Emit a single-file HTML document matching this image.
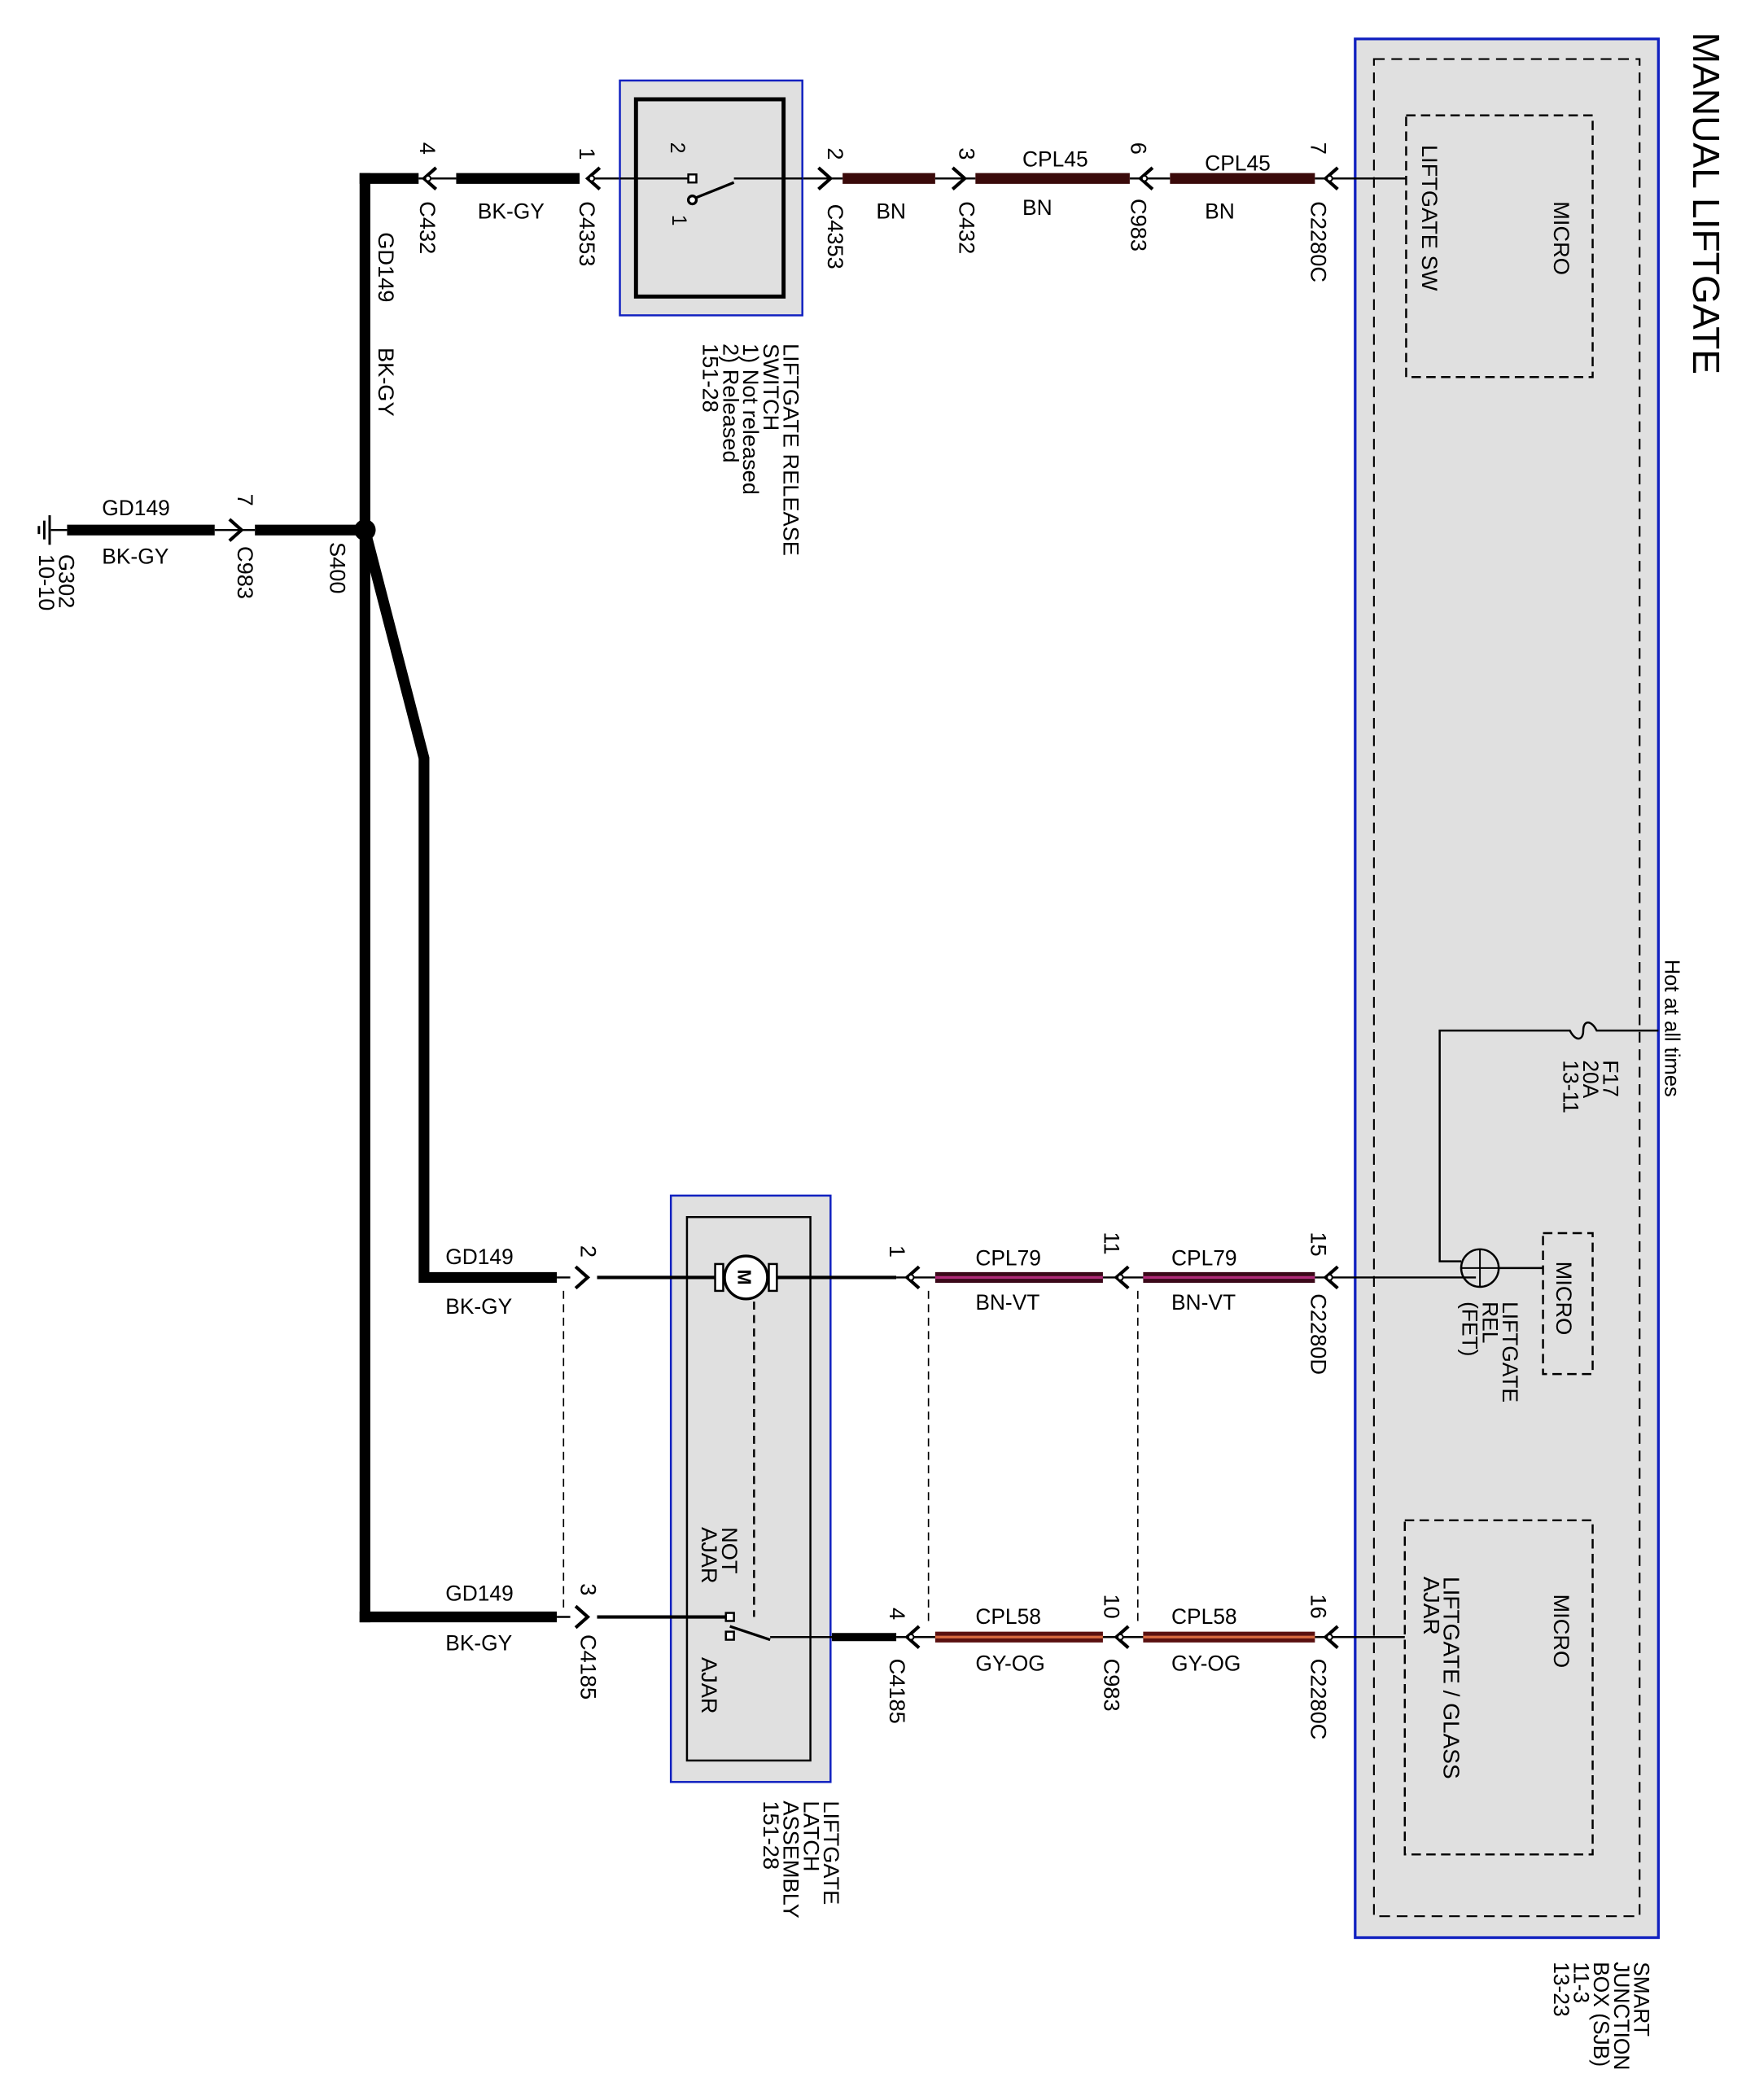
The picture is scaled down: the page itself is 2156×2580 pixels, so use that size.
<!DOCTYPE html>
<html><head><style>html,body{margin:0;padding:0;background:#fff}svg{display:block}</style></head>
<body>
<svg width="2156" height="2580" viewBox="0 0 1308 1565" preserveAspectRatio="none" xmlns="http://www.w3.org/2000/svg" font-family="Liberation Sans, sans-serif" font-size="16.5">
<defs>
<g id="al"><path d="M9,-8 L0,0 L9,8" fill="none" stroke="#000" stroke-width="2.5"/><circle cx="3" cy="0" r="2" fill="#fff" stroke="#000" stroke-width="1.2"/></g>
<g id="ar"><path d="M-9,-8 L0,0 L-9,8" fill="none" stroke="#000" stroke-width="2.5"/></g>
</defs>
<!-- SJB -->
<rect x="1010" y="29" width="226" height="1415" fill="#e0e0e0" stroke="#1020c0" stroke-width="2"/>
<rect x="1024" y="44" width="198" height="1384" fill="none" stroke="#000" stroke-width="1.3" stroke-dasharray="8,5"/>
<rect x="1048" y="86" width="139" height="195" fill="none" stroke="#000" stroke-width="1.5" stroke-dasharray="7,4"/>
<rect x="1150" y="919" width="37" height="105" fill="none" stroke="#000" stroke-width="1.5" stroke-dasharray="7,4"/>
<rect x="1047" y="1133" width="140" height="249" fill="none" stroke="#000" stroke-width="1.5" stroke-dasharray="7,4"/>
<text transform="translate(1262,24) rotate(90)" font-size="28">MANUAL LIFTGATE</text>
<text transform="translate(1158,150) rotate(90)">MICRO</text>
<text transform="translate(1060,108) rotate(90)">LIFTGATE SW</text>
<text transform="translate(1160,940) rotate(90)">MICRO</text>
<text transform="translate(1158,1188) rotate(90)">MICRO</text>
<text transform="translate(1076,1175) rotate(90)" font-size="17">LIFTGATE / GLASS</text>
<text transform="translate(1061,1175) rotate(90)" font-size="17">AJAR</text>
<text transform="translate(1241,715) rotate(90)" font-size="15.5">Hot at all times</text>
<g font-size="16">
<text transform="translate(1218,1462) rotate(90)">SMART</text>
<text transform="translate(1203,1462) rotate(90)">JUNCTION</text>
<text transform="translate(1188,1462) rotate(90)">BOX (SJB)</text>
<text transform="translate(1173,1462) rotate(90)">11-3</text>
<text transform="translate(1158,1462) rotate(90)">13-23</text>
</g>
<!-- fuse & relay -->
<path d="M1236,768 L1190,768 C1186,760 1180,760 1180,768 C1180,776 1174,776 1170,768 L1073,768 L1073,940 L1089,940" fill="none" stroke="#000" stroke-width="1.5"/>
<g font-size="16">
<text transform="translate(1195,790) rotate(90)">F17</text>
<text transform="translate(1180,790) rotate(90)">20A</text>
<text transform="translate(1165,790) rotate(90)">13-11</text>
</g>
<circle cx="1103" cy="945" r="14" fill="none" stroke="#000" stroke-width="1.5"/>
<line x1="1089" y1="945" x2="1117" y2="945" stroke="#000" stroke-width="1.2"/>
<line x1="1103" y1="931" x2="1103" y2="959" stroke="#000" stroke-width="1.2"/>
<line x1="1117" y1="945" x2="1150" y2="945" stroke="#000" stroke-width="1.5"/>
<g font-size="16">
<text transform="translate(1120,970) rotate(90)">LIFTGATE</text>
<text transform="translate(1105,970) rotate(90)">REL</text>
<text transform="translate(1090,970) rotate(90)">(FET)</text>
</g>

<!-- top row -->
<line x1="440" y1="133" x2="628" y2="133" stroke="#000" stroke-width="1.5"/>
<line x1="697" y1="133" x2="727" y2="133" stroke="#000" stroke-width="1.5"/>
<line x1="842" y1="133" x2="872" y2="133" stroke="#000" stroke-width="1.5"/>
<line x1="980" y1="133" x2="1048" y2="133" stroke="#000" stroke-width="1.5"/>
<line x1="628" y1="133" x2="697" y2="133" stroke="#3a0a0a" stroke-width="8"/>
<line x1="727" y1="133" x2="842" y2="133" stroke="#3a0a0a" stroke-width="8"/>
<line x1="872" y1="133" x2="980" y2="133" stroke="#3a0a0a" stroke-width="8"/>
<line x1="340" y1="133" x2="432" y2="133" stroke="#000" stroke-width="8"/>
<line x1="268" y1="133" x2="312" y2="133" stroke="#000" stroke-width="8"/>
<line x1="312" y1="133" x2="340" y2="133" stroke="#000" stroke-width="1.5"/>
<use href="#al" x="316" y="133"/><use href="#al" x="438" y="133"/>
<use href="#ar" x="619" y="133"/><use href="#ar" x="719" y="133"/>
<use href="#al" x="850" y="133"/><use href="#al" x="988" y="133"/>
<g font-size="16">
<text x="356" y="163">BK-GY</text>
<text x="653" y="163">BN</text>
<text x="762" y="124">CPL45</text><text x="762" y="160">BN</text>
<text x="898" y="127">CPL45</text><text x="898" y="163">BN</text>
</g>
<g>
<text transform="translate(313,106) rotate(90)">4</text>
<text transform="translate(313,150) rotate(90)">C432</text>
<text transform="translate(432,110) rotate(90)">1</text>
<text transform="translate(432,150) rotate(90)">C4353</text>
<text transform="translate(617,110) rotate(90)">2</text>
<text transform="translate(617,152) rotate(90)">C4353</text>
<text transform="translate(715,110) rotate(90)">3</text>
<text transform="translate(715,150) rotate(90)">C432</text>
<text transform="translate(843,106) rotate(90)">6</text>
<text transform="translate(843,148) rotate(90)">C983</text>
<text transform="translate(977,106) rotate(90)">7</text>
<text transform="translate(977,150) rotate(90)">C2280C</text>
</g>
<!-- release switch -->
<rect x="462" y="60" width="136" height="175" fill="#e0e0e0" stroke="#1020c0" stroke-width="1.5"/>
<rect x="474" y="74" width="110" height="147" fill="none" stroke="#000" stroke-width="3"/>
<line x1="462" y1="133" x2="513" y2="133" stroke="#000" stroke-width="1.5"/>
<line x1="547" y1="133" x2="598" y2="133" stroke="#000" stroke-width="1.5"/>
<rect x="513" y="130" width="6" height="6" fill="#fff" stroke="#000" stroke-width="1.5"/>
<line x1="517" y1="148" x2="547" y2="136" stroke="#000" stroke-width="2"/>
<circle cx="516" cy="149" r="3" fill="#fff" stroke="#000" stroke-width="2"/>
<text transform="translate(500,106) rotate(90)" font-size="15">2</text>
<text transform="translate(501,160) rotate(90)" font-size="15">1</text>
<g>
<text transform="translate(584,256) rotate(90)">LIFTGATE RELEASE</text>
<text transform="translate(569,256) rotate(90)">SWITCH</text>
<text transform="translate(554,256) rotate(90)">1) Not released</text>
<text transform="translate(539,256) rotate(90)">2) Released</text>
<text transform="translate(524,256) rotate(90)">151-28</text>
</g>

<!-- ground bus -->
<line x1="272" y1="129" x2="272" y2="1209" stroke="#000" stroke-width="8"/>
<polyline points="272,395 316,565 316,952 415,952" fill="none" stroke="#000" stroke-width="8"/>
<line x1="268" y1="1205" x2="415" y2="1205" stroke="#000" stroke-width="8"/>
<circle cx="272" cy="395" r="8" fill="#000"/>
<line x1="190" y1="395" x2="272" y2="395" stroke="#000" stroke-width="8"/>
<line x1="160" y1="395" x2="190" y2="395" stroke="#000" stroke-width="1.5"/>
<line x1="50" y1="395" x2="160" y2="395" stroke="#000" stroke-width="8"/>
<line x1="38" y1="395" x2="50" y2="395" stroke="#000" stroke-width="1.5"/>
<line x1="37" y1="384" x2="37" y2="406" stroke="#000" stroke-width="1.8"/>
<line x1="33" y1="388" x2="33" y2="402" stroke="#000" stroke-width="1.8"/>
<line x1="29" y1="392" x2="29" y2="398" stroke="#000" stroke-width="1.8"/>
<use href="#ar" x="180" y="395"/>
<g font-size="16"><text x="76" y="384">GD149</text><text x="76" y="420">BK-GY</text></g>
<g>
<text transform="translate(177,368) rotate(90)">7</text>
<text transform="translate(177,407) rotate(90)">C983</text>
<text transform="translate(246,404) rotate(90)">S400</text>
<text transform="translate(44,413) rotate(90)">G302</text>
<text transform="translate(29,413) rotate(90)">10-10</text>
<text transform="translate(282,173) rotate(90)">GD149</text>
<text transform="translate(282,259) rotate(90)">BK-GY</text>
</g>

<!-- latch assembly -->
<rect x="500" y="891" width="119" height="437" fill="#e0e0e0" stroke="#1020c0" stroke-width="1.5"/>
<rect x="512" y="907" width="92" height="405" fill="none" stroke="#000" stroke-width="1.5"/>
<line x1="415" y1="952" x2="425" y2="952" stroke="#000" stroke-width="1.5"/>
<line x1="445" y1="952" x2="538" y2="952" stroke="#000" stroke-width="2.5"/>
<rect x="533" y="942" width="6" height="20" fill="#fff" stroke="#000" stroke-width="1.5"/>
<rect x="573" y="942" width="6" height="20" fill="#fff" stroke="#000" stroke-width="1.5"/>
<circle cx="556" cy="952" r="16" fill="#fff" stroke="#000" stroke-width="2"/>
<text transform="translate(550,946) rotate(90)" font-size="14" font-weight="bold">M</text>
<line x1="579" y1="952" x2="668" y2="952" stroke="#000" stroke-width="2.5"/>
<line x1="562" y1="970" x2="562" y2="1205" stroke="#000" stroke-width="1.5" stroke-dasharray="6,4"/>
<line x1="415" y1="1205" x2="425" y2="1205" stroke="#000" stroke-width="1.5"/>
<line x1="445" y1="1205" x2="541" y2="1205" stroke="#000" stroke-width="2.5"/>
<rect x="541" y="1202" width="6" height="6" fill="#fff" stroke="#000" stroke-width="1.5"/>
<line x1="544" y1="1212" x2="574" y2="1222" stroke="#000" stroke-width="2"/>
<rect x="541" y="1216" width="6" height="6" fill="#fff" stroke="#000" stroke-width="1.5"/>
<line x1="574" y1="1220" x2="668" y2="1220" stroke="#000" stroke-width="1.5"/>
<line x1="620" y1="1220" x2="668" y2="1220" stroke="#000" stroke-width="6"/>
<g>
<text transform="translate(538,1138) rotate(90)">NOT</text>
<text transform="translate(523,1138) rotate(90)">AJAR</text>
<text transform="translate(523,1235) rotate(90)">AJAR</text>
<text transform="translate(614,1342) rotate(90)">LIFTGATE</text>
<text transform="translate(599,1342) rotate(90)">LATCH</text>
<text transform="translate(584,1342) rotate(90)">ASSEMBLY</text>
<text transform="translate(569,1342) rotate(90)">151-28</text>
</g>
<use href="#ar" x="438" y="952"/><use href="#ar" x="438" y="1205"/>
<g font-size="16">
<text x="332" y="942">GD149</text><text x="332" y="979">BK-GY</text>
<text x="332" y="1193">GD149</text><text x="332" y="1230">BK-GY</text>
</g>
<g>
<text transform="translate(433,928) rotate(90)">2</text>
<text transform="translate(433,1180) rotate(90)">3</text>
<text transform="translate(433,1218) rotate(90)">C4185</text>
<text transform="translate(663,928) rotate(90)">1</text>
<text transform="translate(663,1198) rotate(90)">4</text>
<text transform="translate(663,1236) rotate(90)">C4185</text>
<text transform="translate(823,918) rotate(90)">11</text>
<text transform="translate(823,1188) rotate(90)">10</text>
<text transform="translate(823,1236) rotate(90)">C983</text>
<text transform="translate(977,918) rotate(90)">15</text>
<text transform="translate(977,964) rotate(90)">C2280D</text>
<text transform="translate(977,1188) rotate(90)">16</text>
<text transform="translate(977,1236) rotate(90)">C2280C</text>
</g>
<!-- dashed ties -->
<line x1="420" y1="962" x2="420" y2="1198" stroke="#000" stroke-width="1" stroke-dasharray="6,4"/>
<line x1="692" y1="962" x2="692" y2="1212" stroke="#000" stroke-width="1" stroke-dasharray="6,4"/>
<line x1="848" y1="962" x2="848" y2="1212" stroke="#000" stroke-width="1" stroke-dasharray="6,4"/>
<!-- CPL79 row -->
<line x1="668" y1="952" x2="1100" y2="952" stroke="#000" stroke-width="1.5"/>
<line x1="697" y1="952" x2="822" y2="952" stroke="#3a0818" stroke-width="8"/>
<line x1="697" y1="952" x2="822" y2="952" stroke="#b02a78" stroke-width="2"/>
<line x1="852" y1="952" x2="980" y2="952" stroke="#3a0818" stroke-width="8"/>
<line x1="852" y1="952" x2="980" y2="952" stroke="#b02a78" stroke-width="2"/>
<use href="#al" x="676" y="952"/><use href="#al" x="832" y="952"/><use href="#al" x="988" y="952"/>
<g font-size="16">
<text x="727" y="943">CPL79</text><text x="727" y="976">BN-VT</text>
<text x="873" y="943">CPL79</text><text x="873" y="976">BN-VT</text>
</g>
<!-- CPL58 row -->
<line x1="668" y1="1220" x2="1047" y2="1220" stroke="#000" stroke-width="1.5"/>
<line x1="697" y1="1220" x2="822" y2="1220" stroke="#5a1010" stroke-width="8"/>
<line x1="697" y1="1220" x2="822" y2="1220" stroke="#d86a40" stroke-width="2"/>
<line x1="852" y1="1220" x2="980" y2="1220" stroke="#5a1010" stroke-width="8"/>
<line x1="852" y1="1220" x2="980" y2="1220" stroke="#d86a40" stroke-width="2"/>
<use href="#al" x="676" y="1220"/><use href="#al" x="832" y="1220"/><use href="#al" x="988" y="1220"/>
<g font-size="16">
<text x="727" y="1210">CPL58</text><text x="727" y="1245">GY-OG</text>
<text x="873" y="1210">CPL58</text><text x="873" y="1245">GY-OG</text>
</g>
</svg>
</body></html>
